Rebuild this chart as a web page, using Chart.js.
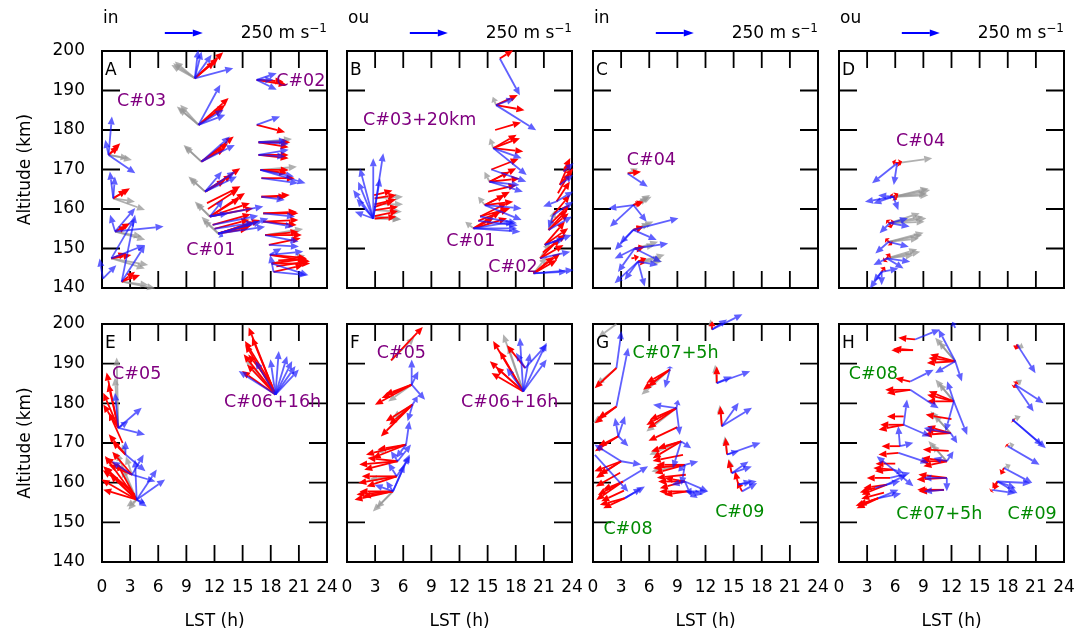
<!DOCTYPE html>
<html>
<head>
<meta charset="utf-8">
<script src="https://cdn.jsdelivr.net/npm/chart.js@4/dist/chart.umd.min.js"></script>
<style>
  body { margin: 0; background: #fff; width: 1089px; height: 633px; position: relative; overflow: hidden; }
  canvas.p { position: absolute; }
</style>
</head>
<body>
<script>
// ticks
const xTicks = [0, 3, 6, 9, 12, 15, 18, 21, 24];
const yTicks = [140, 150, 160, 170, 180, 190, 200];
const columnTitles = ['in', 'ou', 'in', 'ou'];
const panelIds = ['A', 'B', 'C', 'D', 'E', 'F', 'G', 'H'];
const refSpeed = 250; // m/s, legend arrow

// arrows: [LST (h), altitude (km), u (m/s), v (m/s)]
const grayA = [
  [9.9,193.1,-143,99],[9.9,193.1,-154,88],[9.9,193.1,-132,110],
  [10.3,181.3,-143,121],[10.3,181.3,-132,110],[10.3,181.3,-121,132],
  [10.6,172.0,-117,110],[10.6,172.0,-110,99],
  [11.0,164.4,-110,99],[11.0,164.4,-99,88],
  [11.5,158.1,-99,99],[11.5,158.1,-88,88],
  [12.4,153.8,-110,110],[12.4,153.8,-99,88],
  [0.7,173.7,154,-33],[0.7,173.7,132,-22],[1.2,162.7,143,-22],[1.2,162.7,209,-77],
  [1.4,154.3,198,-55],[1.4,154.3,176,-33],[1.0,147.5,242,-44],[1.0,147.5,220,-66],
  [2.1,141.6,220,-44],[2.1,141.6,176,-22],
  [16.7,176.9,220,22],[16.9,169.9,240,20],[17.4,153.4,250,40],[18.1,146.2,220,55]
];
const redA = [
  [9.9,193.1,187,171],[9.9,193.1,154,132],[9.9,193.1,132,110],
  [10.3,181.3,198,176],[10.3,181.3,176,132],[10.3,181.3,154,110],
  [10.6,172.0,213,165],[10.6,172.0,176,121],[10.6,172.0,154,88],
  [11.0,164.4,231,154],[11.0,164.4,176,110],[11.0,164.4,132,77],
  [11.2,161.5,220,110],[11.3,160.0,200,130],
  [11.5,158.1,231,154],[11.5,158.1,264,88],[11.5,158.1,198,121],[11.5,158.1,286,55],
  [11.8,156.0,250,70],[12.0,155.0,230,60],
  [12.4,153.8,242,77],[12.4,153.8,275,88],[12.4,153.8,220,55],[12.4,153.8,198,33],
  [16.5,192.7,198,-33],[16.5,192.7,176,-11],[16.5,181.3,187,-48],
  [16.7,176.9,209,0],[16.7,176.9,198,-33],[16.7,173.7,198,0],[16.7,173.7,198,-22],
  [16.9,169.9,187,0],[16.9,169.9,176,-22],[17.0,167.8,220,0],
  [17.0,163.1,187,11],[17.0,163.1,165,0],[17.2,158.9,231,0],[17.2,158.9,220,11],
  [17.2,156.8,231,11],[17.2,156.8,220,-22],[17.4,153.4,242,0],[17.4,153.4,220,22],
  [17.8,150.9,209,44],[17.9,148.4,264,-44],[17.9,148.4,242,-22],
  [18.1,146.2,253,0],[18.1,146.2,231,33],[18.3,144.1,198,44],[18.6,145.5,200,30],[18.8,147.0,180,10],
  [0.7,173.7,77,77],[0.7,173.7,66,55],[1.2,162.7,110,66],[1.2,162.7,88,55],
  [1.4,154.3,99,55],[1.4,154.3,77,33],[1.0,147.5,132,22],[1.0,147.5,99,33],
  [2.1,141.6,121,44],[2.1,141.6,88,66]
];
const blueA = [
  [9.9,193.1,253,66],[9.9,193.1,44,176],[9.9,193.1,22,187],[9.9,193.1,110,154],
  [10.3,181.3,143,264],[10.3,181.3,176,66],[10.3,181.3,165,99],
  [10.6,172.0,187,165],[10.6,172.0,220,110],
  [11.0,164.4,198,132],[11.0,164.4,209,99],[11.0,164.4,110,132],
  [11.5,158.1,352,66],[11.5,158.1,121,22],[11.5,158.1,88,110],
  [11.8,156.0,300,60],[12.0,155.0,260,40],
  [12.4,153.8,330,99],[12.4,153.8,308,44],[12.4,153.8,33,-22],[12.4,153.8,286,77],
  [16.5,192.7,132,44],[16.5,192.7,132,-66],[16.5,192.7,110,0],[16.5,181.3,154,55],
  [16.7,176.9,198,-11],[16.7,176.9,187,11],[16.7,173.7,198,33],[16.7,173.7,176,-11],
  [16.9,169.9,297,-88],[16.9,169.9,220,-44],[17.0,167.8,242,-33],[17.0,163.1,154,-22],
  [17.2,158.9,209,-22],[17.2,156.8,198,-33],[17.4,153.4,220,-44],[17.8,150.9,198,-11],
  [17.9,148.4,220,22],[17.9,148.4,77,44],[18.1,146.2,242,-77],[18.3,144.1,220,-22],[18.3,144.1,-22,110],
  [0.7,173.7,22,253],[0.7,173.7,-22,99],[0.7,173.7,176,-121],
  [1.2,162.7,-22,176],[1.2,162.7,11,143],
  [1.4,154.3,319,33],[1.4,154.3,-33,110],[1.4,154.3,132,154],
  [1.0,147.5,154,264],[1.0,147.5,220,88],
  [2.1,141.6,88,440],[2.1,141.6,154,242],[0.1,142.4,-22,132],[0.1,142.4,88,88]
];

const grayB = [
  [2.95,162.7,187,11],[2.95,161.2,187,0],[2.95,159.7,180,-11],[2.95,158.2,176,-22],[2.95,157.6,170,-5],
  [15.9,186.3,-22,55],[15.6,175.4,-22,66],[15.2,166.9,-33,66],[14.7,161.0,-44,55],[13.5,155.1,-55,44],
  [19.9,143.7,88,110],[20.6,147.5,66,110],[21.5,154.7,44,132]
];
const redB = [
  [2.95,162.7,143,22],[2.95,161.2,143,33],[2.95,159.7,154,22],[2.95,158.2,154,33],[2.95,157.6,143,11],
  [2.9,160.5,132,44],[2.9,163.5,120,30],
  [16.3,198.1,88,55],[15.9,186.3,143,66],[15.9,186.3,187,-33],[15.8,180.0,170,50],
  [15.6,175.4,176,66],[15.6,175.4,198,-22],[15.6,175.4,154,88],[15.4,170.0,180,70],
  [15.2,166.9,176,88],[15.2,166.9,198,22],[15.2,166.9,132,66],[15.05,164.4,187,44],
  [14.7,161.0,165,88],[14.7,161.0,187,22],[14.7,161.0,132,66],
  [14.2,158.1,198,55],[14.2,158.1,176,88],[14.0,157.0,200,80],
  [13.5,155.1,176,110],[13.5,155.1,220,66],[13.5,155.1,132,66],
  [19.9,143.7,176,132],[19.9,143.7,154,88],[19.9,143.7,132,110],
  [20.6,147.5,132,132],[20.6,147.5,154,88],[20.9,149.0,150,120],
  [21.1,150.9,132,154],[21.1,150.9,154,110],[21.5,154.7,132,110],[21.5,154.7,121,132],
  [21.8,156.5,120,120],[22.0,158.5,110,132],[22.35,161.9,88,132],[22.5,164.0,80,140],
  [22.7,166.1,66,154],[22.7,166.1,88,110],[23.1,169.5,44,88]
];
const blueB = [
  [2.8,157.6,-132,187],[2.8,157.6,-88,330],[2.8,157.6,0,396],[2.8,157.6,66,429],
  [2.8,157.6,-121,44],[2.8,157.6,-99,242],[2.8,157.6,44,264],[2.8,157.6,-110,130],
  [16.3,198.1,132,-242],[15.9,186.3,264,-165],[15.9,186.3,121,44],
  [15.6,175.4,220,-176],[15.6,175.4,187,-66],[15.4,170.0,230,-80],[15.2,166.9,220,-66],[15.2,166.9,198,-22],
  [14.7,161.0,242,-22],[14.7,161.0,242,-99],[14.2,158.1,242,-44],[14.0,157.0,260,-30],
  [13.5,155.1,286,0],[13.5,155.1,308,-22],[13.5,155.1,264,44],
  [19.9,143.7,264,22],[19.9,143.7,220,11],[20.6,147.5,198,44],
  [21.1,150.9,176,66],[21.1,150.9,132,44],[21.5,154.7,154,88],
  [22.0,158.5,132,88],[22.0,158.5,-33,-88],[22.35,161.9,110,66],[22.35,161.9,-88,-33],
  [22.7,166.1,88,66],[23.1,169.5,66,55]
];

const grayC = [
  [3.7,169.0,66,33],[4.3,161.0,110,66],[4.3,161.0,99,44],[4.3,161.0,120,55],
  [4.3,154.7,132,55],[4.3,154.7,110,44],[4.45,150.0,132,22],[4.45,150.0,154,44],
  [4.8,146.7,176,44],[4.8,146.7,154,22],[4.8,146.7,160,0]
];
const redC = [
  [3.7,169.0,88,11],[4.3,161.0,66,22],[4.3,161.0,44,11],[4.3,154.7,66,22],[4.3,154.7,55,11],
  [4.45,150.0,66,11],[4.45,150.0,44,-11],[4.8,146.7,55,22],[4.8,146.7,44,-11],[4.1,147.5,50,10]
];
const blueC = [
  [3.7,169.0,132,-88],
  [4.3,161.0,-165,-22],[4.3,161.0,-154,-143],[4.3,161.0,88,-110],
  [4.3,154.7,297,77],[4.3,154.7,-121,-132],[4.3,154.7,-88,-88],[4.3,154.7,154,-66],
  [4.45,150.0,220,33],[4.45,150.0,-132,-66],[4.45,150.0,-110,-154],[4.45,150.0,176,-88],
  [4.8,146.7,-154,-143],[4.8,146.7,44,-165],[4.8,146.7,-88,-121],[4.8,146.7,132,-22]
];

const grayD = [
  [6.2,171.6,231,33],
  [5.8,163.1,242,44],[5.8,163.1,220,22],[5.8,163.1,231,55],[5.8,163.1,230,10],
  [5.4,156.4,220,44],[5.4,156.4,198,66],[5.4,156.4,242,33],[5.4,156.4,230,10],
  [5.3,151.7,220,44],[5.3,151.7,198,22],[5.3,151.7,230,60],
  [5.1,147.5,220,44],[5.1,147.5,176,22],[5.1,147.5,200,60]
];
const redD = [
  [6.2,171.6,33,11],[6.2,171.6,-33,11],[6.2,171.6,22,-11],
  [5.8,163.1,33,22],[5.8,163.1,-22,11],[5.8,163.1,22,-22],
  [5.4,156.4,33,11],[5.4,156.4,-22,22],[5.4,156.4,11,-33],
  [5.3,151.7,-22,22],[5.3,151.7,22,-22],[5.1,147.5,22,33],[5.1,147.5,-22,-22],[4.55,144.1,22,33]
];
const blueD = [
  [6.2,171.6,-165,-132],[6.2,171.6,-22,-143],
  [5.8,163.1,-187,-33],[5.8,163.1,-132,-44],[5.8,163.1,33,-88],[5.8,163.1,-100,10],
  [5.4,156.4,121,33],[5.4,156.4,-66,-66],[5.4,156.4,132,-22],
  [5.3,151.7,132,-33],[5.3,151.7,-88,-77],
  [5.1,147.5,154,-22],[5.1,147.5,-88,-44],[5.1,147.5,110,-66],
  [4.55,144.1,-77,-110],[4.55,144.1,0,-88],[4.55,144.1,110,22],[4.55,144.1,-55,-66]
];

const grayE = [
  [1.74,173.8,-11,462],[1.74,173.8,-22,330],[2.5,167.1,-22,66],[3.2,162.0,-40,120],
  [3.7,155.7,-132,308],[3.7,155.7,-66,-44],[3.7,155.7,-55,-66],[3.7,155.7,-100,200],
  [18.5,182.2,-200,240]
];
const redE = [
  [1.74,173.8,-77,363],[1.74,173.8,-99,231],[1.74,173.8,-99,154],[1.74,173.8,-66,290],
  [2.2,170.0,-90,200],[2.5,167.1,-110,132],[2.5,167.1,-88,88],
  [3.2,162.0,-176,110],[3.2,162.0,-154,66],[3.2,162.0,-130,150],[3.0,158.5,-180,120],
  [3.7,155.7,-220,66],[3.7,155.7,-231,132],[3.7,155.7,-220,220],[3.7,155.7,-209,286],
  [3.7,155.7,-176,165],[3.7,155.7,-132,242],[3.5,157.0,-200,180],
  [18.5,182.2,-176,440],[18.5,182.2,-209,264],[18.5,182.2,-220,154],[18.5,182.2,-198,330],
  [18.5,182.2,-154,374],[18.5,182.2,-187,198],[18.1,184.7,-176,286],[18.1,184.7,-154,198]
];
const blueE = [
  [1.74,173.8,154,132],[1.74,173.8,176,-44],[1.74,173.8,-22,231],[1.74,173.8,66,44],
  [2.5,167.1,132,-110],[2.5,167.1,0,88],
  [3.2,162.0,154,-44],[3.2,162.0,77,132],[3.2,162.0,-132,88],
  [3.7,155.7,187,132],[3.7,155.7,-11,264],[3.7,155.7,132,198],[3.7,155.7,55,-22],[3.7,155.7,66,-44],
  [18.5,182.2,22,286],[18.5,182.2,77,253],[18.5,182.2,132,187],[18.5,182.2,154,165],
  [18.5,182.2,-33,231],[18.5,182.2,-242,154],[18.5,182.2,-132,220],[18.5,182.2,110,220]
];

const grayF = [
  [4.7,190.8,154,154],[6.9,184.7,-154,-110],[7.0,179.7,-132,-88],[6.3,169.6,-200,-50],
  [5.3,161.6,-180,-20],[4.9,157.8,-132,-132],[4.9,157.8,-110,-110],
  [18.8,183.0,-132,374],[18.8,183.0,-100,300]
];
const redF = [
  [4.7,190.8,209,220],
  [6.9,184.7,-242,-132],[6.9,184.7,-198,-88],[6.9,184.7,-176,-66],
  [7.0,179.7,-209,-209],[7.0,179.7,-154,-132],[7.0,179.7,-176,-110],
  [6.3,169.6,-264,-66],[6.3,169.6,-220,-88],[6.3,169.6,-187,-33],
  [5.4,165.4,-253,-22],[5.4,165.4,-220,-55],[5.4,165.4,-198,22],
  [5.3,161.6,-253,-44],[5.3,161.6,-198,-66],[5.3,161.6,-230,0],
  [4.9,157.8,-253,-55],[4.9,157.8,-220,0],[4.9,157.8,-198,-33],[4.9,157.8,-240,-20],
  [18.8,183.0,-198,330],[18.8,183.0,-220,198],[18.8,183.0,-209,121],[18.8,183.0,-154,264],
  [18.8,183.0,-180,160],[19.0,188.9,-120,150]
];
const blueF = [
  [6.9,184.7,0,165],[6.9,184.7,88,-99],[6.9,184.7,44,88],
  [7.0,179.7,33,55],[7.0,179.7,-33,-110],[6.3,169.6,22,154],[6.3,169.6,-66,-88],
  [5.4,165.4,88,110],[5.4,165.4,-44,66],[5.3,161.6,88,132],[5.3,161.6,-55,88],
  [4.9,157.8,-121,44],[4.9,157.8,110,242],[4.9,157.8,77,176],[4.9,157.8,-44,66],
  [18.8,183.0,-22,352],[18.8,183.0,154,319],[18.8,183.0,154,209],[18.8,183.0,-110,154],
  [18.8,183.0,44,250],[19.0,188.9,143,154],[19.0,188.9,-60,100]
];

const grayG = [
  [8.2,188.5,-187,-165],[8.9,178.8,-198,-154],[9.4,170.4,-209,-88],[9.8,164.5,-220,-44],
  [2.5,188.9,-132,-110],[2.5,179.2,-154,-110],[2.5,200.0,-121,-88],
  [12.7,198.6,-11,66],[13.2,185.1,-11,121],[13.75,174.2,-15,140],[14.3,167.1,-15,120],[14.8,162.4,-20,95]
];
const redG = [
  [8.2,188.5,-176,-132],[8.2,188.5,-154,-88],[8.2,188.5,-143,-110],
  [8.9,178.8,-198,-110],[8.9,178.8,-176,-77],[8.9,178.8,-187,-132],[9.0,174.0,-190,-90],
  [9.4,170.4,-198,-66],[9.4,170.4,-187,-110],[9.4,170.4,-154,-44],[9.6,167.0,-200,-40],
  [9.8,164.5,-209,-22],[9.8,164.5,-198,-55],[9.8,164.5,-187,0],[9.9,162.0,-190,-20],
  [9.8,160.3,-176,0],[9.8,160.3,-165,-44],[9.8,160.3,-132,22],
  [10.1,157.8,-187,0],[10.1,157.8,-154,-22],
  [2.5,188.9,-143,-132],[2.5,179.2,-143,-110],[2.5,179.2,-121,-77],
  [2.7,171.7,-154,-99],[2.7,171.7,-132,-66],
  [3.0,165.4,-165,-110],[3.0,165.4,-143,-88],[3.0,165.4,-176,-66],[2.9,162.5,-160,-90],
  [3.2,160.3,-165,-88],[3.2,160.3,-132,-55],[3.2,160.3,-176,-121],[3.3,158.0,-150,-70],
  [3.4,156.1,-143,-66],[3.4,156.1,-165,-44],
  [12.7,198.6,0,55],[13.2,185.1,0,110],[13.75,174.2,-11,132],[14.3,167.1,-11,110],
  [14.8,162.4,-22,88],[15.5,159.5,-22,88],[15.9,157.8,-33,66]
];
const blueG = [
  [8.2,188.5,-33,-121],[8.2,188.5,0,22],
  [8.9,178.8,-154,22],[8.9,178.8,22,-176],[8.9,178.8,11,55],
  [9.4,170.4,66,-44],[9.4,170.4,-55,-176],
  [9.8,164.5,-22,-132],[9.8,164.5,88,22],[9.8,164.5,-44,-44],
  [9.8,160.3,154,-66],[9.8,160.3,44,-99],[9.8,160.3,-88,-22],
  [10.1,157.8,132,0],[10.1,157.8,66,-44],[10.1,157.8,100,-20],
  [2.5,188.9,33,242],[2.5,179.2,77,385],
  [2.7,171.7,-22,121],[2.7,171.7,66,-66],[2.7,171.7,44,132],
  [3.0,165.4,-176,110],[3.0,165.4,132,-22],[3.2,160.3,165,99],
  [3.4,156.1,110,66],[3.4,156.1,132,77],[0.2,167.0,220,-242],
  [12.7,198.6,99,66],[12.7,198.6,200,100],[13.2,185.1,220,77],[13.2,185.1,99,44],
  [13.75,174.2,198,121],[13.75,174.2,110,154],[14.3,167.1,220,77],[14.3,167.1,77,22],
  [14.8,162.4,132,44],[14.8,162.4,110,77],[15.5,159.5,121,22],[15.5,159.5,88,22],[15.9,157.8,99,55]
];

const grayH = [
  [12.4,190.6,-132,154],[12.4,190.6,-110,130],[12.25,180.5,-121,143],[12.25,180.5,-100,120],
  [11.9,172.5,-132,143],[11.9,172.5,-110,120],[11.5,165.4,-121,132],[11.5,165.4,-100,110],
  [19.0,194.8,44,-22],[18.8,184.7,44,33],[18.5,175.9,55,22],[18.0,169.2,44,11],[17.6,163.7,44,22]
];
const redH = [
  [8.1,196.1,-110,11],[7.9,193.4,-143,0],[7.9,193.4,-130,10],[7.6,185.5,-99,22],
  [7.6,183.4,-165,0],[7.6,183.4,-154,-22],[6.9,176.7,-110,0],[6.9,174.6,-154,0],[6.9,174.6,-165,-33],
  [6.5,169.2,-121,0],[6.35,167.5,-132,-11],[6.0,164.8,-130,0],[5.8,163.3,-121,-11],[5.8,163.3,-132,11],
  [5.45,161.2,-154,0],[5.1,159.5,-154,-22],[5.1,159.5,-165,-66],[4.8,157.5,-150,-40],
  [4.2,156.1,-143,-66],[4.2,156.1,-132,-44],[4.2,156.1,-150,-50],[3.85,158.7,-100,-30],
  [12.4,190.6,-176,22],[12.4,190.6,-187,-11],[12.4,190.6,-165,44],
  [12.25,180.5,-176,44],[12.25,180.5,-176,0],[12.25,180.5,-165,66],[12.0,176.0,-170,30],
  [11.9,172.5,-165,22],[11.9,172.5,-176,-11],[11.9,172.5,-154,44],[11.7,168.0,-170,10],
  [11.5,165.4,-176,0],[11.5,165.4,-165,22],[11.5,165.4,-154,-33],
  [11.5,161.2,-198,-11],[11.5,161.2,-187,22],[11.2,158.2,-176,0],[11.2,158.2,-165,-11],
  [19.0,194.8,-11,-33],[19.0,194.8,-5,-20],[18.8,184.7,11,22],[18.8,184.7,-11,-22],
  [18.5,175.9,11,-11],[18.0,169.2,-11,11],[17.6,163.7,-22,-44],
  [16.9,160.3,-33,-44],[16.9,160.3,-22,-55],[16.35,158.2,-11,-11]
];
const blueH = [
  [8.1,196.1,165,66],[7.6,185.5,154,77],[7.6,183.4,187,-121],
  [6.9,174.6,22,165],[6.9,174.6,176,-77],[6.5,169.2,88,22],[6.5,169.2,-11,132],
  [6.35,167.5,198,-66],[5.8,163.3,-110,88],[5.8,163.3,66,-22],[5.8,163.3,132,-110],
  [5.45,161.2,132,33],[5.1,159.5,132,66],[4.2,156.1,132,55],[4.2,156.1,150,30],[3.85,158.7,165,44],
  [12.4,199.0,-20,40],
  [12.4,190.6,-110,209],[12.4,190.6,44,-132],[12.4,190.6,-132,-77],
  [12.25,180.5,-55,-198],[12.25,180.5,88,-220],[12.25,180.5,-44,132],
  [11.9,172.5,44,-66],[11.9,172.5,-176,33],[11.5,165.4,44,66],[11.5,165.4,-88,22],
  [11.5,161.2,-154,0],[11.5,161.2,0,-88],[11.2,158.2,-132,-11],
  [19.0,194.8,121,-187],[18.8,184.7,187,-121],[18.8,184.7,121,-176],
  [18.5,175.9,220,-187],[18.5,175.9,198,-170],[18.0,169.2,209,-121],[17.6,163.7,187,-99],
  [16.9,160.3,220,-11],[16.9,160.3,132,-77],[16.9,160.3,121,-44],[16.35,158.2,154,-22]
];

// campaign labels: [text, LST, altitude, colour]
const PURPLE = '#800080', GREEN = '#008a00';
const labelsA = [['C#03',4.23,187.2,PURPLE],['C#01',11.6,149.4,PURPLE],['C#02',21.2,192.2,PURPLE]];
const labelsB = [['C#03+20km',7.75,182.3,PURPLE],['C#01',13.2,151.9,PURPLE],['C#02',17.7,145.3,PURPLE]];
const labelsC = [['C#04',6.23,172.2,PURPLE]];
const labelsD = [['C#04',8.7,177.2,PURPLE]];
const labelsE = [['C#05',3.7,187.4,PURPLE],['C#06+16h',18.2,180.3,PURPLE]];
const labelsF = [['C#05',5.8,192.5,PURPLE],['C#06+16h',17.35,180.3,PURPLE]];
const labelsG = [['C#07+5h',8.8,192.5,GREEN],['C#08',3.73,148.3,GREEN],['C#09',15.65,152.6,GREEN]];
const labelsH = [['C#08',3.67,187.4,GREEN],['C#07+5h',10.7,152.1,GREEN],['C#09',20.6,152.1,GREEN]];

const panels = [
  [grayA, redA, blueA, labelsA], [grayB, redB, blueB, labelsB],
  [grayC, redC, blueC, labelsC], [grayD, redD, blueD, labelsD],
  [grayE, redE, blueE, labelsE], [grayF, redF, blueF, labelsF],
  [grayG, redG, blueG, labelsG], [grayH, redH, blueH, labelsH]
];

// layout
const FONT = 'DejaVu Sans';
const colLeft = [102, 347, 593, 839];
const rowTop = [51, 324];
const PW = 225, PH = [237, 238];
const KX = 4.053 / 250;   // h per m/s (250 m/s = 38 px)
const KY = 9.62 / 250;    // km per m/s

function drawArrow(ctx, x0, y0, x1, y1, len, half) {
  const dx = x1 - x0, dy = y1 - y0;
  const L = Math.hypot(dx, dy);
  if (L < 0.5) return;
  const ux = dx / L, uy = dy / L;
  const hl = Math.min(len, L * 0.6);
  const bx = x1 - ux * hl, by = y1 - uy * hl;
  ctx.beginPath();
  ctx.moveTo(x0, y0);
  ctx.lineTo(bx, by);
  ctx.stroke();
  ctx.beginPath();
  ctx.moveTo(x1, y1);
  ctx.lineTo(bx - uy * half, by + ux * half);
  ctx.lineTo(bx + uy * half, by - ux * half);
  ctx.closePath();
  ctx.fill();
}

const framePlugin = {
  id: 'frame',
  beforeDatasetsDraw(chart) {
    const {ctx, chartArea: a, scales: {x, y}} = chart;
    ctx.save();
    ctx.strokeStyle = '#000';
    ctx.lineWidth = 1.8;
    ctx.beginPath();
    xTicks.forEach(v => {
      const px = x.getPixelForValue(v);
      ctx.moveTo(px, a.bottom); ctx.lineTo(px, a.bottom - 17);
      ctx.moveTo(px, a.top); ctx.lineTo(px, a.top + 17);
    });
    yTicks.forEach(v => {
      const py = y.getPixelForValue(v);
      ctx.moveTo(a.left, py); ctx.lineTo(a.left + 18, py);
      ctx.moveTo(a.right, py); ctx.lineTo(a.right - 18, py);
    });
    ctx.stroke();
    ctx.lineWidth = 2;
    ctx.strokeRect(a.left, a.top, a.right - a.left, a.bottom - a.top);
    ctx.restore();
  }
};

const arrowPlugin = {
  id: 'arrows',
  afterDatasetsDraw(chart) {
    const {ctx, scales: {x, y}} = chart;
    chart.data.datasets.forEach((ds, i) => {
      const meta = chart.getDatasetMeta(i);
      ctx.save();
      ctx.strokeStyle = ds.arrowColor;
      ctx.fillStyle = ds.arrowColor;
      ctx.lineWidth = 1.8;
      meta.data.forEach((pt, j) => {
        const d = ds.data[j];
        drawArrow(ctx, pt.x, pt.y,
          x.getPixelForValue(d.x + d.u * KX), y.getPixelForValue(d.y + d.v * KY), 8, 3.5);
      });
      ctx.restore();
    });
  }
};

const textPlugin = {
  id: 'texts',
  afterDraw(chart) {
    const {ctx, chartArea: a, scales: {x, y}} = chart;
    const o = chart.options.plugins.texts;
    ctx.save();
    ctx.textBaseline = 'middle';
    ctx.fillStyle = '#000';
    ctx.font = '17px "' + FONT + '"';
    ctx.textAlign = 'left';
    ctx.fillText(o.id, a.left + 3, a.top + 20);
    ctx.font = '17.5px "' + FONT + '"';
    ctx.textAlign = 'center';
    o.labels.forEach(([t, tx, ty, c]) => {
      ctx.fillStyle = c;
      ctx.fillText(t, x.getPixelForValue(tx), y.getPixelForValue(ty));
    });
    if (o.title) {
      ctx.fillStyle = '#000';
      ctx.textAlign = 'left';
      ctx.font = '17px "' + FONT + '"';
      ctx.fillText(o.title, a.left + 1, a.top - 32);
      // reference arrow
      const ax0 = x.getPixelForValue(6.7);
      const ax1 = x.getPixelForValue(6.7 + refSpeed * KX);
      ctx.strokeStyle = '#0000ff';
      ctx.fillStyle = '#0000ff';
      ctx.lineWidth = 2;
      drawArrow(ctx, ax0, a.top - 18, ax1, a.top - 18, 10, 3.5);
      // "250 m s^-1"
      ctx.fillStyle = '#000';
      ctx.textBaseline = 'alphabetic';
      ctx.font = '17px "' + FONT + '"';
      const main = refSpeed + ' m s';
      const w1 = ctx.measureText(main).width;
      ctx.font = '12px "' + FONT + '"';
      const w2 = ctx.measureText('\u22121').width;
      const x0 = a.right - w1 - w2;
      ctx.fillText('\u22121', x0 + w1, a.top - 19.5);
      ctx.font = '17px "' + FONT + '"';
      ctx.fillText(main, x0, a.top - 13.5);
    }
    ctx.restore();
  }
};

const toPts = arr => arr.map(([t, h, u, v]) => ({x: t, y: h, u: u, v: v}));
const noPad = s => { s.paddingLeft = 0; s.paddingRight = 0; s.paddingTop = 0; s.paddingBottom = 0; };

panels.forEach(([g, r, b, labels], k) => {
  const col = k % 4, row = Math.floor(k / 4);
  const padL = col === 0 ? 102 : 12, padR = 12;
  const padT = row === 0 ? 51 : 12, padB = row === 0 ? 12 : 71;
  const cv = document.createElement('canvas');
  cv.className = 'p';
  cv.width = PW + padL + padR;
  cv.height = PH[row] + padT + padB;
  cv.style.left = (colLeft[col] - padL) + 'px';
  cv.style.top = (rowTop[row] - padT) + 'px';
  document.body.appendChild(cv);
  const font = {family: FONT, size: 17};
  new Chart(cv, {
    type: 'scatter',
    data: {
      datasets: [
        {label: 'gray', data: toPts(g), arrowColor: 'rgba(150,150,150,0.75)'},
        {label: 'red', data: toPts(r), arrowColor: 'rgb(255,0,0)'},
        {label: 'blue', data: toPts(b), arrowColor: 'rgba(20,20,255,0.68)'}
      ]
    },
    options: {
      responsive: false,
      animation: false,
      devicePixelRatio: 1,
      layout: {padding: {top: padT, right: padR, left: 0, bottom: 0}},
      elements: {point: {radius: 0, hoverRadius: 0}},
      events: [],
      plugins: {
        legend: {display: false},
        tooltip: {enabled: false},
        texts: {id: panelIds[k], labels: labels, title: row === 0 ? columnTitles[col] : null}
      },
      scales: {
        x: {
          type: 'linear', min: 0, max: 24,
          grid: {display: false, drawTicks: false},
          border: {display: false},
          ticks: {display: row === 1, stepSize: 3, color: '#000', font: font, padding: 15, maxRotation: 0, autoSkip: false},
          title: {display: row === 1, text: 'LST (h)', color: '#000', font: font, padding: {top: 0, bottom: 1}},
          afterFit: s => { s.height = padB; noPad(s); }
        },
        y: {
          type: 'linear', min: 140, max: 200,
          grid: {display: false, drawTicks: false},
          border: {display: false},
          ticks: {display: col === 0, stepSize: 10, color: '#000', font: font, padding: 17},
          title: {display: col === 0, text: 'Altitude (km)', color: '#000', font: font, padding: {top: 15, bottom: 0}},
          afterFit: s => { s.width = padL; noPad(s); }
        }
      }
    },
    plugins: [framePlugin, arrowPlugin, textPlugin]
  });
});
</script>
</body>
</html>
